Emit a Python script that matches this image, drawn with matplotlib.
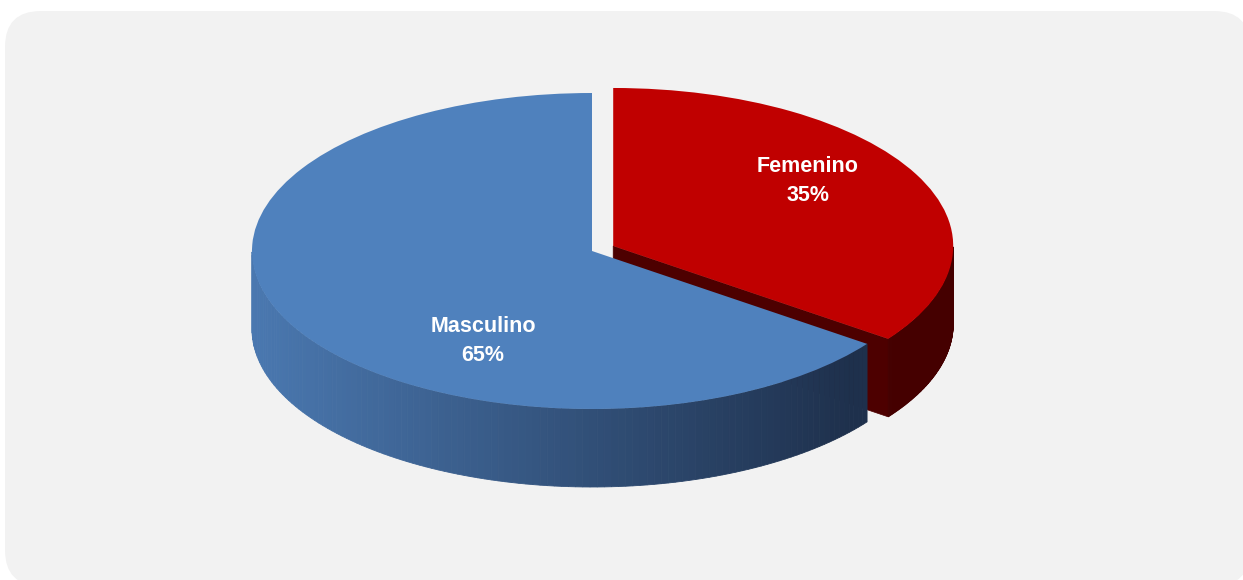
import numpy as np
import matplotlib
matplotlib.use('Agg')
import matplotlib.pyplot as plt
from matplotlib.patches import Wedge, Polygon, FancyBboxPatch
from matplotlib.transforms import Affine2D

# Data (clockwise from 12 o'clock, as in the Excel chart)
categories = ['Femenino', 'Masculino']
values = [35, 65]
explode = [0.07, 0.0]

# Colours
top_colors = ['#C00000', '#4F81BD']
side_left = [(0.36, 0.0, 0.0), (74 / 255, 120 / 255, 176 / 255)]
side_right = [(0.27, 0.0, 0.0), (30 / 255, 48 / 255, 76 / 255)]
cut_colors = [(0.30, 0.0, 0.0), (68 / 255, 110 / 255, 166 / 255)]

# Layout (pixels)
W, H = 1243, 580
cx, cy = 592, 251
rx, ry = 340, 158
depth = 78
label_xy = [(808, 181), (483, 341)]

fig = plt.figure(figsize=(W / 100, H / 100), dpi=100)
ax = fig.add_axes([0, 0, 1, 1])
ax.set_xlim(0, W)
ax.set_ylim(H, 0)
ax.axis('off')

# background panel
panel = FancyBboxPatch((5 + 36, 11 + 36), 1250 - 5 - 72, 586 - 11 - 72,
                       boxstyle='round,pad=36', fc='#F2F2F2', ec='none', zorder=0)
ax.add_patch(panel)


def rim(t, ox, oy, down=0.0):
    t = np.radians(t)
    return np.column_stack([cx + ox + rx * np.cos(t), cy + oy - ry * np.sin(t) + down])


# angles of every slice, clockwise from 90 deg
total = sum(values)
start = 90.0
slices = []
for i, v in enumerate(values):
    th2 = start
    th1 = start - 360.0 * v / total
    start = th1
    mid = np.radians((th1 + th2) / 2)
    ox = explode[i] * rx * np.cos(mid)
    oy = -explode[i] * ry * np.sin(mid)
    slices.append((th1, th2, ox, oy))

z = 1
for i, (th1, th2, ox, oy) in enumerate(slices):
    # cut face at th1 (seen when it lies on the front-right quarter)
    if np.sin(np.radians(th1)) < 0 and np.cos(np.radians(th1)) > 0:
        p = rim([th1], ox, oy)[0]
        face = [(cx + ox, cy + oy), tuple(p), (p[0], p[1] + depth), (cx + ox, cy + oy + depth)]
        ax.add_patch(Polygon(face, closed=True, fc=cut_colors[i], ec=cut_colors[i], lw=0.5, zorder=z))
    # cut face at th2 = 90 deg, seen slightly from the right (perspective hint)
    if abs(th2 - 90) < 1e-6 and th1 < -90:
        q = rim([th2], ox, oy)[0]
        strip = [tuple(q), (q[0] + 7, q[1] + 2), (q[0] + 7, cy + oy + depth / 2),
                 (cx + ox, cy + oy + depth / 2)]
        ax.add_patch(Polygon(strip, closed=True, fc=cut_colors[i], ec='none', zorder=z))
    # outer side, only the part that faces the viewer (angles 180..360)
    seg_m = np.linspace(th1, th2, 400) % 360
    ts = np.sort(seg_m[seg_m >= 180])
    if len(ts) > 1:
        edges = np.linspace(ts[0], ts[-1], 120)
        x0, x1 = cx - rx, cx + rx
        for a, b in zip(edges[:-1], edges[1:]):
            top = rim([a, b], ox, oy)
            bot = rim([b, a], ox, oy, depth)
            xm = (top[0, 0] + top[1, 0]) / 2
            f = np.clip((xm - x0) / (x1 - x0 - 80), 0, 1)
            c = tuple(np.array(side_left[i]) * (1 - f) + np.array(side_right[i]) * f)
            ax.add_patch(Polygon(np.vstack([top, bot]), closed=True, fc=c, ec=c, lw=0.6, zorder=z + 1))
    # top face
    tr = Affine2D().scale(rx, -ry).translate(cx + ox, cy + oy) + ax.transData
    ax.add_patch(Wedge((0, 0), 1, th1, th2, fc=top_colors[i], ec='none', transform=tr, zorder=z + 2))
    z += 3

fam = ['Liberation Sans Narrow', 'Liberation Sans', 'DejaVu Sans']
for i, name in enumerate(categories):
    pct = round(100 * values[i] / total)
    ax.text(label_xy[i][0], label_xy[i][1], f'{name}\n{pct}%', ha='center', va='center',
            color='white', fontsize=15.5, fontweight='bold', family=fam,
            linespacing=1.55, zorder=20)

fig.savefig('out.png', dpi=100, facecolor='white')
